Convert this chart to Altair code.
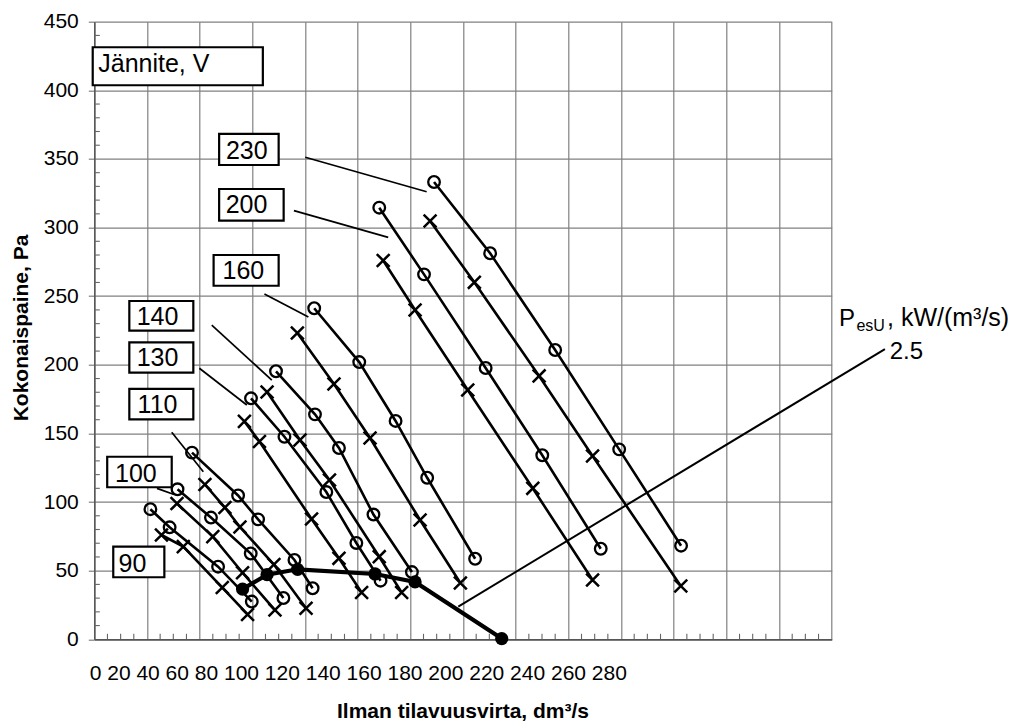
import altair as alt
import pandas as pd

# ---------------- data ----------------
# x: air flow (grid units 0..280), y: total pressure, Pa
flow_230_o = [129.0, 150.3, 175.0, 199.3, 222.8]
pres_230_o = [333.2, 281.3, 210.8, 138.4, 68.2]
flow_230_x = [127.5, 144.3, 168.9, 189.2, 222.7]
pres_230_x = [304.8, 260.1, 191.9, 133.6, 38.8]
flow_200_o = [108.2, 125.2, 148.6, 170.1, 192.3]
pres_200_o = [314.5, 265.9, 197.7, 134.1, 66.0]
flow_200_x = [109.7, 121.8, 141.8, 166.5, 189.2]
pres_200_x = [276.0, 239.9, 181.6, 110.0, 43.2]
flow_160_o = [83.5, 100.6, 114.4, 126.4, 144.6]
pres_160_o = [241.2, 202.0, 159.1, 117.7, 58.7]
flow_160_x = [77.1, 91.0, 104.7, 123.7, 139.0]
pres_160_x = [223.2, 186.0, 146.7, 86.9, 41.0]
flow_140_o = [69.0, 83.8, 92.9, 106.0, 120.6]
pres_140_o = [195.3, 163.9, 139.4, 90.9, 49.0]
flow_140_x = [65.6, 78.1, 89.3, 108.2, 116.7]
pres_140_x = [180.2, 145.2, 116.1, 60.2, 34.1]
flow_130_o = [59.5, 72.2, 88.1, 99.5, 108.7]
pres_130_o = [175.6, 147.6, 107.3, 70.2, 42.7]
flow_130_x = [57.0, 62.7, 82.5, 92.9, 101.5]
pres_130_x = [158.8, 144.1, 87.7, 59.0, 34.1]
flow_110_o = [37.1, 54.6, 62.2, 76.0, 82.9]
pres_110_o = [136.0, 104.8, 87.4, 57.8, 37.2]
flow_110_x = [42.0, 49.6, 55.3, 68.2, 80.4]
pres_110_x = [112.8, 96.0, 81.8, 54.5, 22.6]
flow_100_o = [31.6, 44.3, 59.4, 71.8]
pres_100_o = [109.3, 88.7, 62.5, 30.1]
flow_100_x = [31.4, 45.0, 56.3, 68.6]
pres_100_x = [98.9, 74.8, 48.5, 21.3]
flow_90_o = [21.3, 28.6, 47.0, 59.8]
pres_90_o = [94.8, 81.6, 52.9, 27.5]
flow_90_x = [25.5, 33.8, 48.6, 58.2]
pres_90_x = [76.0, 67.5, 37.7, 18.1]

# operating line (bold, filled dots)
flow_op = [56.3, 65.6, 77.2, 106.6, 121.8, 154.7]
pres_op = [36.6, 47.1, 51.0, 47.6, 41.8, 0.5]

# P_esU = 2.5 line
flow_pes = [138.2, 300.2]
pres_pes = [23.8, 211.5]

# label boxes
box_text = ["Jännite, V", "230", "200", "160", "140", "130", "110", "100", "90"]
box_left = [-0.6, 47.4, 47.4, 45.3, 13.3, 13.3, 13.3, 4.9, 7.2]
box_right = [64.0, 70.0, 71.9, 70.0, 37.6, 37.6, 37.6, 29.4, 26.6]
box_bottom = [403.7, 345.6, 305.0, 257.6, 224.9, 194.3, 160.3, 110.8, 45.2]
box_top = [431.4, 368.2, 328.1, 280.0, 246.5, 216.4, 182.4, 133.0, 67.5]
text_x = [1.5, 57.9, 57.8, 56.6, 24.0, 24.0, 24.0, 15.8, 14.5]
text_y = [413.6, 349.7, 310.4, 262.3, 229.0, 199.0, 165.1, 114.8, 49.2]

# leader lines from labels to curves
lead_x1 = [80.1, 75.8, 64.6, 44.6, 39.9, 29.4, 23.8]
lead_y1 = [351.2, 312.3, 251.6, 229.0, 197.5, 150.8, 110.0]
lead_x2 = [126.2, 111.6, 81.3, 67.4, 57.9, 41.4, 30.3]
lead_y2 = [326.1, 292.9, 234.8, 188.9, 170.7, 122.1, 105.5]

# axis ticks
x_grid = list(range(0, 281, 20))
x_tick_labels = list(range(0, 281, 20))
y_ticks = list(range(0, 451, 50))
x_minor = [v for v in range(5, 280, 5) if v % 20 != 0]
y_minor = [v for v in range(10, 450, 10) if v % 50 != 0]

x_title = "Ilman tilavuusvirta, dm³/s"
y_title = "Kokonaispaine, Pa"

# ---------------- build tables ----------------
series = [
    ("230", "o", flow_230_o, pres_230_o), ("230", "x", flow_230_x, pres_230_x),
    ("200", "o", flow_200_o, pres_200_o), ("200", "x", flow_200_x, pres_200_x),
    ("160", "o", flow_160_o, pres_160_o), ("160", "x", flow_160_x, pres_160_x),
    ("140", "o", flow_140_o, pres_140_o), ("140", "x", flow_140_x, pres_140_x),
    ("130", "o", flow_130_o, pres_130_o), ("130", "x", flow_130_x, pres_130_x),
    ("110", "o", flow_110_o, pres_110_o), ("110", "x", flow_110_x, pres_110_x),
    ("100", "o", flow_100_o, pres_100_o), ("100", "x", flow_100_x, pres_100_x),
    ("90", "o", flow_90_o, pres_90_o), ("90", "x", flow_90_x, pres_90_x),
]
rows = []
for v, m, fx, py in series:
    for i, (a, b) in enumerate(zip(fx, py)):
        rows.append({"s": v + m, "m": m, "i": i, "q": a, "p": b})
curves = pd.DataFrame(rows)
op = pd.DataFrame({"q": flow_op, "p": pres_op, "i": range(len(flow_op))})
pes = pd.DataFrame({"q": [flow_pes[0]], "p": [pres_pes[0]], "q2": [flow_pes[1]], "p2": [pres_pes[1]]})
boxes = pd.DataFrame({"t": box_text, "q": box_left, "q2": box_right, "p": box_bottom, "p2": box_top,
                      "tq": text_x, "tp": text_y})
leads = pd.DataFrame({"q": lead_x1, "p": lead_y1, "q2": lead_x2, "p2": lead_y2})

W, H = 737.4, 617.6
FONT = "Liberation Sans"
GRID = "#808080"

xs = alt.Scale(domain=[0, 280], nice=False, zero=False)
ysc = alt.Scale(domain=[0, 450], nice=False, zero=False)
xaxis = alt.Axis(values=x_grid, grid=True, labels=False, ticks=False, title=None,
                 gridColor=GRID, gridWidth=1.2, domainColor="#555555", domainWidth=1.5)
yaxis = alt.Axis(values=y_ticks, grid=True, title=None, labelFont=FONT, labelFontSize=21,
                 labelColor="black", tickSize=6, tickColor=GRID, tickWidth=1.2, labelPadding=10,
                 gridColor=GRID, gridWidth=1.2, domainColor="#555555", domainWidth=1.5)


def X(f="q"):
    return alt.X(f, type="quantitative", scale=xs, axis=xaxis)


def Y(f="p"):
    return alt.Y(f, type="quantitative", scale=ysc, axis=yaxis)


lines = alt.Chart(curves).mark_line(color="black", strokeWidth=2.6).encode(
    x=X(), y=Y(), detail="s:N", order="i:Q")
circ = alt.Chart(curves).transform_filter(alt.datum.m == "o").mark_point(
    shape="circle", filled=False, size=135, strokeWidth=2.3, color="black", opacity=1).encode(x=X(), y=Y())
cross = alt.Chart(curves).transform_filter(alt.datum.m == "x").mark_point(
    shape="M-1,-1L1,1M1,-1L-1,1", filled=False, size=165, strokeWidth=2.5, color="black", opacity=1
).encode(x=X(), y=Y())
opline = alt.Chart(op).mark_line(color="black", strokeWidth=4.2).encode(x=X(), y=Y(), order="i:Q")
opdots = alt.Chart(op).mark_point(shape="circle", filled=True, size=175, color="black", opacity=1).encode(
    x=X(), y=Y())
pesline = alt.Chart(pes).mark_rule(color="black", strokeWidth=2).encode(
    x=X(), y=Y(), x2="q2:Q", y2="p2:Q")
leadlines = alt.Chart(leads).mark_rule(color="black", strokeWidth=1.7).encode(
    x=X(), y=Y(), x2="q2:Q", y2="p2:Q")
rects = alt.Chart(boxes).mark_rect(fill="white", stroke="black", strokeWidth=2.2).encode(
    x=X(), y=Y(), x2="q2:Q", y2="p2:Q")
btext_v = alt.Chart(boxes).transform_filter(alt.datum.t != box_text[0]).mark_text(
    font=FONT, fontSize=25, align="center", baseline="alphabetic", color="black").encode(
    x=X("tq"), y=Y("tp"), text="t:N")
btext_j = alt.Chart(boxes).transform_filter(alt.datum.t == box_text[0]).mark_text(
    font=FONT, fontSize=25, align="left", baseline="alphabetic", color="black").encode(
    x=X("tq"), y=Y("tp"), text="t:N")

# P_esU annotation (outside right of plot)
pes_label = pd.DataFrame({
    "t": ["P", "esU", ", kW/(m³/s)", "2.5"],
    "q": [282.8, 289.4, 301.0, 302.0],
    "p": [228.3, 224.9, 228.3, 204.0],
    "fs": [24, 16, 25, 24],
})
pes_text = alt.Chart(pes_label).mark_text(font=FONT, align="left", baseline="alphabetic",
                                          color="black").encode(
    x=X(), y=Y(), text="t:N", size=alt.Size("fs:Q", scale=None, legend=None))

# minor ticks (inward)
ymin = alt.Chart(pd.DataFrame({"p": y_minor})).mark_rule(color="#666666", strokeWidth=1.1).encode(
    y=Y(), x=alt.value(0), x2=alt.value(5.5))
xmin = alt.Chart(pd.DataFrame({"q": x_minor})).mark_rule(color="#666666", strokeWidth=1.1).encode(
    x=X(), y=alt.value(H), y2=alt.value(H - 5.5))

# x tick label string (as printed in the original)
xlab = alt.Chart(pd.DataFrame({"t": [" ".join(str(v) for v in x_tick_labels)]})).mark_text(
    font=FONT, fontSize=21, align="left", baseline="alphabetic", color="black").encode(
    text="t:N", x=alt.value(-4.6), y=alt.value(H + 40.7))
xtit = alt.Chart(pd.DataFrame({"t": [x_title]})).mark_text(
    font=FONT, fontSize=21, fontWeight="bold", align="center", baseline="alphabetic",
    color="black").encode(text="t:N", x=alt.value(W / 2), y=alt.value(H + 78.5))
ytit = alt.Chart(pd.DataFrame({"t": [y_title]})).mark_text(
    font=FONT, fontSize=21, fontWeight="bold", align="center", baseline="alphabetic",
    angle=270, color="black").encode(text="t:N", x=alt.value(-66.0), y=alt.value(306.3))

chart = alt.layer(
    ymin, xmin, rects, leadlines, lines, circ, cross, pesline, opline, opdots,
    btext_v, btext_j, pes_text, xlab, xtit, ytit
).properties(
    width=W, height=H,
    autosize=alt.AutoSizeParams(type="none"),
    padding={"left": 86.3, "top": 13.7, "right": 189.3, "bottom": 83.7},
    background="white",
).configure_view(stroke=None)

chart.save("out.html", embed_options={"renderer": "svg", "actions": False})
